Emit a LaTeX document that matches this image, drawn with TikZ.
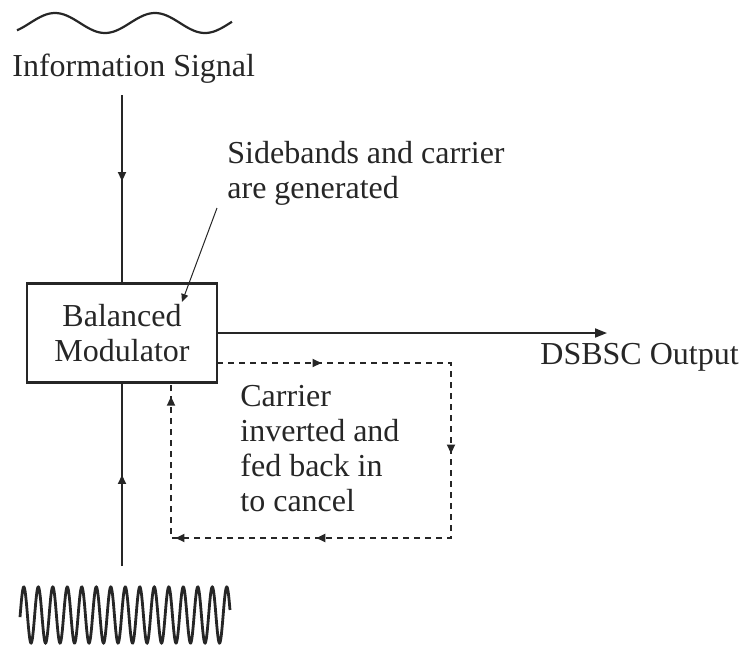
\documentclass[tikz,border=0pt]{standalone}
\usepackage{fontspec}
\setmainfont{Liberation Serif}
\usetikzlibrary{positioning,arrows.meta,decorations.markings}

\begin{document}
\begin{tikzpicture}[x=0.5pt, y=-0.5pt, >={Triangle[length=4.5pt,width=4pt]},
    font=\fontsize{16}{17.5}\selectfont,
    txt/.style={inner sep=0pt, align=left, anchor=north west, text=black!85},
    sig/.style={line width=1.1pt, black!85},
    wire/.style={line width=0.9pt, black!85},
    feed/.style={wire, dash pattern=on 3pt off 2.5pt},
    midarrow/.style={postaction={decorate}, decoration={markings, mark=at position #1 with {\arrow{>}}}}]

  \useasboundingbox (0,0) rectangle (739,650);

  % modulator block
  \node[draw=black!85, line width=1.4pt, minimum width=95pt, minimum height=49.5pt,
        align=center, inner sep=0pt, text=black!85] (bm) at (122,333) {Balanced\\Modulator};

  % information signal (top)
  \draw[sig, domain=17:232, samples=120, smooth] plot (\x, {23-10*cos(3.6*(\x-55))});
  \node[txt] (info) at (12,54) {Information Signal};
  \coordinate (infoTop) at (122,95);
  \draw[wire, midarrow=0.46] (infoTop) -- (bm.north);

  % carrier (bottom)
  \draw[sig, line width=1.4pt, domain=20:230, samples=700] plot (\x, {615-28*cos(24.83*(\x-38.3))});
  \coordinate (carTop) at (122,566);
  \draw[wire, midarrow=0.5] (carTop) -- (bm.south);

  % output
  \coordinate (outEnd) at (607,333);
  \draw[wire, -{Triangle[length=6pt,width=4.5pt]}] (bm.east |- outEnd) -- (outEnd);
  \node[txt] (dsb) at (540,343) {DSBSC Output};

  % note on sidebands
  \node[txt] (note) at (227,141) {Sidebands and carrier\\are generated};
  \coordinate (lead) at (217,208);
  \coordinate (leadTip) at (182,302);
  \draw[line width=0.5pt, black!85, -{Triangle[length=4pt,width=3.5pt]}] (lead) -- (leadTip);

  % carrier fed back
  \coordinate (fbA) at (217,363);
  \coordinate (fbB) at (451,363);
  \coordinate (fbC) at (451,538);
  \coordinate (fbD) at (171,538);
  \coordinate (fbE) at (171,384);
  \draw[feed, postaction={decorate}, decoration={markings,
        mark=at position 0.124 with {\arrow{>}},
        mark=at position 0.385 with {\arrow{>}},
        mark=at position 0.645 with {\arrow{>}},
        mark=at position 0.812 with {\arrow{>}},
        mark=at position 0.985 with {\arrow{>}}}]
    (fbA) -- (fbB) -- (fbC) -- (fbD) -- (fbE);
  \node[txt] (fbtxt) at (240,385) {Carrier\\inverted and\\fed back in\\to cancel};
\end{tikzpicture}
\end{document}
